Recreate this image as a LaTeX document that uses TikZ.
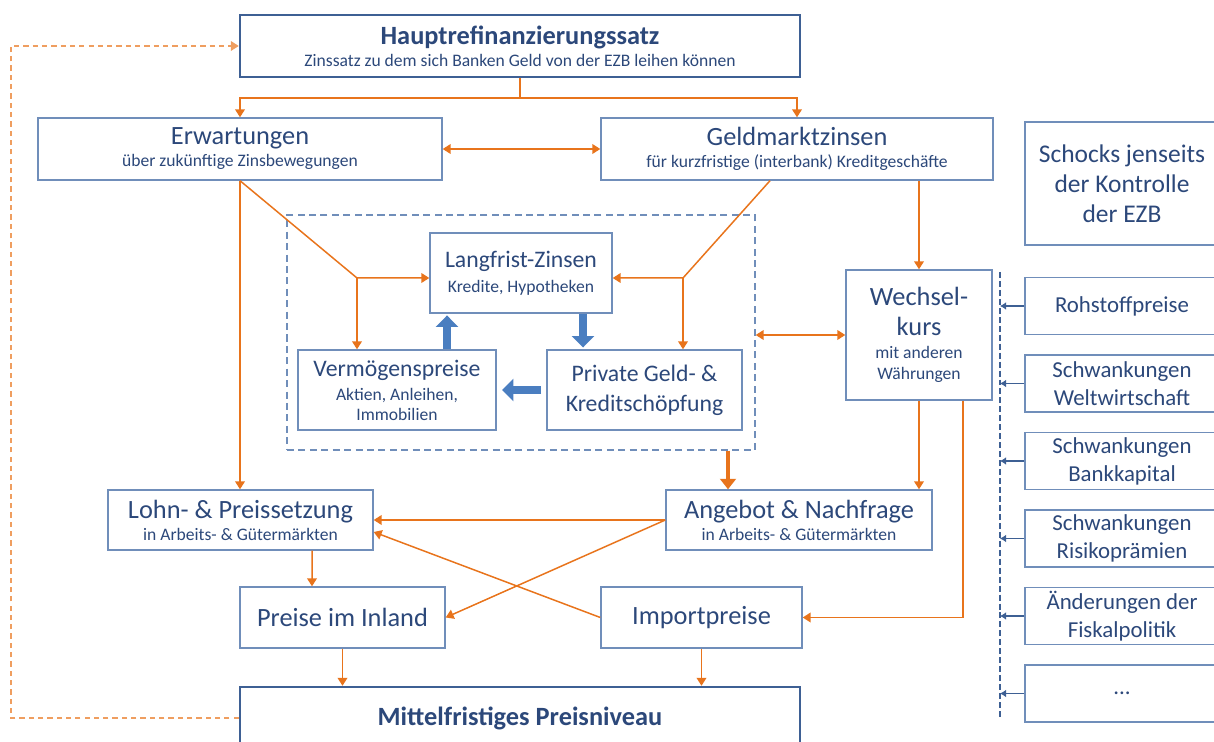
\documentclass[tikz,border=0pt]{standalone}
\usepackage{fontspec}
\setmainfont{Carlito}
\usetikzlibrary{positioning,arrows.meta,calc}
\definecolor{ecbblue}{RGB}{112,142,186}
\definecolor{ecbdark}{RGB}{62,96,148}
\definecolor{ecbtext}{RGB}{44,72,122}
\definecolor{ecborange}{RGB}{232,116,28}
\definecolor{ecbarrow}{RGB}{74,126,192}
\newcommand\subline[1]{{\fontsize{10}{12}\selectfont #1}}
\tikzset{
  sz/.style 2 args={minimum width=#1*0.02cm, minimum height=#2*0.02cm},
  ecbbox/.style={draw=ecbblue, line width=0.8pt, fill=white, align=center, text=ecbtext, inner sep=1pt, font=\fontsize{15}{12.5}\selectfont},
  mainbox/.style={ecbbox, draw=ecbdark, line width=1.4pt, font=\fontsize{15}{12.5}\selectfont\bfseries},
  innerbox/.style={ecbbox, font=\fontsize{13.5}{13}\selectfont},
  sidebox/.style={ecbbox, sz={194}{57}, font=\fontsize{13}{16}\selectfont},
  dashframe/.style={draw=ecbblue, line width=0.8pt, dash pattern=on 4pt off 2.5pt},
  arrow/.style={-{Triangle[length=4.5pt,width=5.5pt]}, line width=0.85pt, draw=ecborange},
  darrow/.style={arrow, {Triangle[length=4.5pt,width=5.5pt]}-{Triangle[length=4.5pt,width=5.5pt]}},
  bigarrow/.style={-{Triangle[length=6pt,width=9pt]}, line width=2.3pt, draw=ecborange},
  blockarrow/.style={-{Triangle[length=6.5pt,width=12.5pt]}, line width=5pt, draw=ecbarrow},
  feedback/.style={arrow, draw=ecborange!70, dash pattern=on 3pt off 2.3pt},
  sidearrow/.style={-{Latex[length=3.5pt,width=4.5pt]}, line width=0.8pt, draw=ecbdark},
  sidebar/.style={draw=ecbdark, line width=1.4pt, dash pattern=on 3.4pt off 1.7pt}
}

\begin{document}
\begin{tikzpicture}[x=0.02cm, y=-0.02cm]
\useasboundingbox (0,0) rectangle (1214,742);
\clip (0,0) rectangle (1214,742);

% ECB side
\node[mainbox, sz={560}{62}] (haupt) at (520,46) {Hauptrefinanzierungssatz\\\subline{\mdseries Zinssatz zu dem sich Banken Geld von der EZB leihen können}};
\node[ecbbox, sz={404}{62}] (erw) at (240,149) {Erwartungen\\\subline{über zukünftige Zinsbewegungen}};
\node[ecbbox, sz={392}{62}] (geld) at (797,149) {Geldmarktzinsen\\\subline{für kurzfristige (interbank) Kreditgeschäfte}};

% credit channel
\node[dashframe, sz={468}{235}] (frame) at (521,332.5) {};
\node[innerbox, sz={182}{80}] (lang) at (521,273) {Langfrist-Zinsen\\[1pt]\subline{Kredite, Hypotheken}};
\node[innerbox, sz={198}{80}] (verm) at (397,390) {Vermögenspreise\\[1pt]\subline{Aktien, Anleihen,}\\[-2pt]\subline{Immobilien}};
\node[innerbox, sz={195}{80}] (priv) at (644.5,390) {Private Geld- \&\\[4pt]Kreditschöpfung};
\node[ecbbox, sz={146}{130}] (wech) at (919,335) {Wechsel-\\[4.5pt]kurs\\[0.5pt]\subline{mit anderen}\\\subline{Währungen}};

% markets and prices
\node[ecbbox, sz={265}{60}] (lohn) at (240.5,520) {Lohn- \& Preissetzung\\\subline{in Arbeits- \& Gütermärkten}};
\node[ecbbox, sz={266}{60}] (angebot) at (799,520) {Angebot \& Nachfrage\\\subline{in Arbeits- \& Gütermärkten}};
\node[ecbbox, sz={205}{61}] (inland) at (342.5,617.5) {Preise im Inland};
\node[ecbbox, sz={201}{61}] (import) at (701.5,617.5) {Importpreise};
\node[mainbox, sz={560}{62}] (mittel) at (520,718) {Mittelfristiges Preisniveau};

% shocks
\node[ecbbox, sz={194}{123}, font=\fontsize{14.5}{13}\selectfont] (schocks) at (1122,183.5) {Schocks jenseits\\[4pt]der Kontrolle\\[4pt]der EZB};
\foreach \n/\y/\t in {roh/306/Rohstoffpreise, welt/383.5/{Schwankungen\\Weltwirtschaft}, bank/461/{Schwankungen\\Bankkapital}, risiko/538.5/{Schwankungen\\Risikoprämien}, fiskal/616/{Änderungen der\\Fiskalpolitik}, more/693.5/{...}}
  \node[sidebox] (\n) at (1122,\y) {\t};
\coordinate (bartop) at (1000,272);
\coordinate (barbot) at (1000,720);
\draw[sidebar] (bartop) -- (barbot);
\foreach \n in {roh,welt,bank,risiko,fiskal,more}
  \draw[sidearrow] (\n.west) -- (\n.west -| bartop);

% connectors
\draw[arrow] (haupt.south) -- ++(0,20) -| (erw.north);
\draw[arrow] (haupt.south) -- ++(0,20) -| (geld.north);
\draw[darrow] (erw) -- (geld);
\draw[arrow] (erw.south) -- (erw.south |- lohn.north);
\coordinate (eknee) at (357,278);
\coordinate (gknee) at (683,278);
\draw[arrow] (erw.south) -- (eknee) -- (eknee -| lang.west);
\draw[arrow] (eknee) -- (eknee |- verm.north);
\draw[arrow] ($(geld.south)+(-27,0)$) -- (gknee) -- (gknee -| lang.east);
\draw[arrow] (gknee) -- (gknee |- priv.north);
\draw[arrow] (geld.south -| wech.north) -- (wech.north);
\draw[darrow] (frame.east |- wech.west) -- (wech.west);

\coordinate (vup) at ($(verm.north)+(50,0)$);
\coordinate (ldown) at ($(lang.south)+(62,0)$);
\draw[blockarrow, shorten >=1pt] (vup) -- (vup |- lang.south);
\draw[blockarrow, shorten >=1pt] (ldown) -- (ldown |- priv.north);
\draw[blockarrow, shorten <=3pt, shorten >=3pt] (priv.west) -- (verm.east);

\draw[bigarrow] ($(frame.south)+(207,0)$) -- ($(angebot.north)+(-71,0)$);
\draw[arrow] (wech.south) -- (wech.south |- angebot.north);
\draw[arrow] ($(wech.south)+(44,0)$) |- (import.east);
\draw[arrow] (angebot.west) -- (lohn.east);
\draw[arrow] (angebot.west) -- (inland.east);
\draw[arrow] (import.west) -- ($(lohn.east)+(0,12)$);
\draw[arrow] ($(lohn.south)+(71.5,0)$) -- ($(inland.north)+(-30.5,0)$);
\draw[arrow] (inland.south) -- (inland.south |- mittel.north);
\draw[arrow] (import.south) -- (import.south |- mittel.north);
\draw[feedback] (mittel.west) -- ++(-228,0) |- (haupt.west);
\end{tikzpicture}
\end{document}
